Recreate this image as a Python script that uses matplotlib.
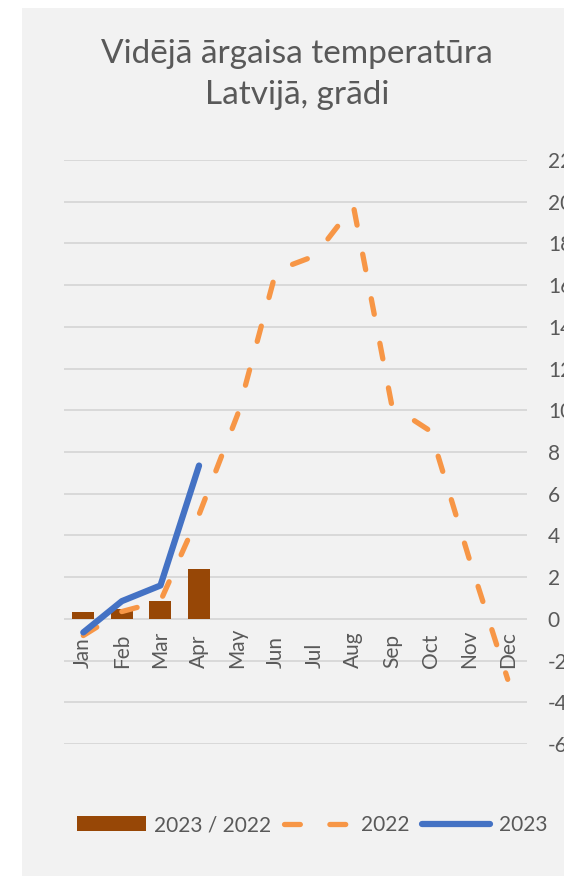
import matplotlib.pyplot as plt
from matplotlib.patches import Rectangle

# dati
months = ['Jan', 'Feb', 'Mar', 'Apr', 'May', 'Jun', 'Jul', 'Aug', 'Sep', 'Oct', 'Nov', 'Dec']
t2022 = [-0.8, 0.35, 0.85, 5.0, 9.8, 16.7, 17.4, 19.8, 10.2, 9.0, 2.9, -2.9]
t2023 = [-0.65, 0.85, 1.6, 7.35]
diff = [0.35, 0.45, 0.85, 2.4]
yticks = list(range(-6, 23, 2))

title1 = 'Vidējā ārgaisa temperatūra'
title2 = 'Latvijā, grādi'

txt = '#595959'
plt.rcParams['font.family'] = ['Lato', 'DejaVu Sans']

W, H = 564, 876
fig = plt.figure(figsize=(W / 100, H / 100), dpi=100)
fig.patch.set_facecolor('white')
fig.add_artist(Rectangle((22 / W, 0), 1, (H - 8) / H, transform=fig.transFigure,
                         facecolor='#f2f2f2', edgecolor='none', zorder=-10))

ax = fig.add_axes([64 / W, (H - 744) / H, 463 / W, 584 / H])
ax.set_facecolor('none')

x = list(range(len(months)))
bars = ax.bar(range(len(diff)), diff, width=0.57, color='#974706', zorder=2,
              label='2023 / 2022')
l22, = ax.plot(x, t2022, color='#f79646', lw=3.8, dashes=(3.0, 5.6),
               dash_capstyle='round', solid_joinstyle='round', zorder=3, label='2022')
l23, = ax.plot(range(len(t2023)), t2023, color='#4472c4', lw=4.5,
               solid_capstyle='round', solid_joinstyle='round', zorder=4, label='2023')

ax.set_xlim(-0.5, 11.5)
ax.set_ylim(-6, 22)
ax.set_yticks(yticks)
ax.set_yticklabels([str(v) for v in yticks])
ax.yaxis.tick_right()
ax.tick_params(axis='y', length=0, pad=15, labelsize=15, labelcolor=txt)
ax.set_xticks([])
ax.grid(axis='y', color='#d9d9d9', lw=1.4, zorder=0)
ax.set_axisbelow(True)
for s in ax.spines.values():
    s.set_visible(False)

# mēnešu nosaukumi pie nulles ass
for i, m in enumerate(months):
    ax.text(i, (744 - 668) / 584, m, transform=ax.get_xaxis_transform(),
            rotation=90, ha='center', va='bottom', fontsize=15, color=txt)

fig.text(297 / W, 1 - 63 / H, title1, ha='center', va='baseline', fontsize=24, color=txt)
fig.text(297 / W, 1 - 104 / H, title2, ha='center', va='baseline', fontsize=24, color=txt)

leg = fig.legend(handles=[bars, l22, l23], loc='center', ncol=3,
                 bbox_to_anchor=(312 / W, 1 - 825 / H), frameon=False,
                 fontsize=15, handlelength=3.3, handletextpad=0.4,
                 columnspacing=0.6, labelcolor=txt)

fig.savefig('out.png', dpi=100)
